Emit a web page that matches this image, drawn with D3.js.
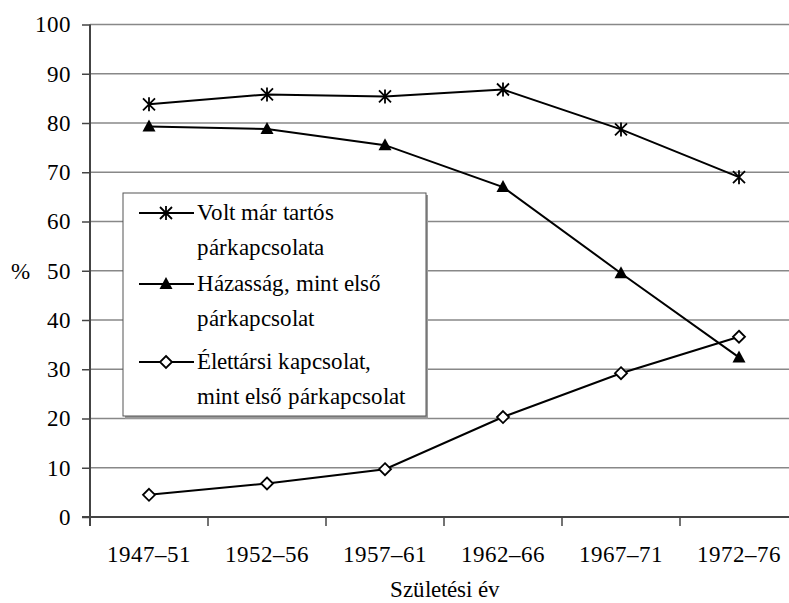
<!DOCTYPE html>
<html>
<head>
<meta charset="utf-8">
<script src="https://cdn.jsdelivr.net/npm/d3@7"></script>
<style>
@font-face {
	font-family: "ChartSerif";
	src: local("Liberation Serif"), local("LiberationSerif"), local("LiberationSerif-Regular"),
		local("Times New Roman"), local("TimesNewRomanPSMT"), local("DejaVu Serif"), local("DejaVuSerif"),
		local("Noto Serif"), local("NotoSerif-Regular");
}
body { margin: 0; background: #fff; }
svg text { font-family: "ChartSerif", "Liberation Serif", "Times New Roman", "DejaVu Serif", serif; fill: #000; font-size: 23px; }
</style>
</head>
<body>
<svg id="svg"></svg>
<script>
var width = 789, height = 603;

var categories = ["1947–51", "1952–56", "1957–61", "1962–66", "1967–71", "1972–76"];
var tartos = [83.8, 85.8, 85.4, 86.8, 78.7, 69.0];
var hazassag = [79.3, 78.8, 75.5, 67.0, 49.5, 32.4];
var elettarsi = [4.5, 6.8, 9.7, 20.3, 29.2, 36.6];
var yTicks = [0, 10, 20, 30, 40, 50, 60, 70, 80, 90, 100];
var seriesNames = [["Volt már tartós", "párkapcsolata"], ["Házasság, mint első", "párkapcsolat"], ["Élettársi kapcsolat,", "mint első párkapcsolat"]];

var svg = d3.select("#svg")
	.attr("width", width)
	.attr("height", height);

var x = d3.scaleBand()
	.domain(categories)
	.range([90, 798]);
var y = d3.scaleLinear()
	.domain([0, 100])
	.range([517, 24.5]);

// grid
svg.append("g")
	.selectAll("line")
	.data(yTicks.slice(1))
	.enter()
	.append("line")
	.attr("x1", 90)
	.attr("x2", width)
	.attr("y1", function(d) { return y(d); })
	.attr("y2", function(d) { return y(d); })
	.style("stroke", "#888")
	.style("stroke-width", 1.5);

var yAxis = d3.axisLeft(y)
	.tickValues(yTicks)
	.tickSize(8)
	.tickPadding(11);
var gy = svg.append("g")
	.attr("transform", "translate(90,0)")
	.call(yAxis)
	.attr("font-family", null)
	.attr("font-size", null);
gy.select(".domain").remove();
gy.selectAll("line").style("stroke", "#444").style("stroke-width", 1.5);
svg.append("line")
	.attr("x1", 90).attr("x2", 90)
	.attr("y1", y(100)).attr("y2", 526)
	.style("stroke", "#444").style("stroke-width", 2);

// x axis
svg.append("line")
	.attr("x1", 82).attr("x2", width)
	.attr("y1", y(0)).attr("y2", y(0))
	.style("stroke", "#444").style("stroke-width", 2);
svg.append("g")
	.selectAll("line")
	.data(categories.slice(1))
	.enter()
	.append("line")
	.attr("x1", function(d) { return x(d); })
	.attr("x2", function(d) { return x(d); })
	.attr("y1", y(0))
	.attr("y2", 526)
	.style("stroke", "#444")
	.style("stroke-width", 1.5);
svg.append("g")
	.selectAll("text")
	.data(categories)
	.enter()
	.append("text")
	.attr("x", function(d) { return x(d) + x.bandwidth() / 2; })
	.attr("y", 562)
	.style("text-anchor", "middle")
	.text(function(d) { return d; });

svg.append("text")
	.attr("x", 445)
	.attr("y", 597)
	.style("text-anchor", "middle")
	.text("Születési év");
svg.append("text")
	.attr("x", 20)
	.attr("y", 279)
	.style("text-anchor", "middle")
	.text("%");

var cx = function(i) { return x(categories[i]) + x.bandwidth() / 2; };
var line = d3.line()
	.x(function(d, i) { return cx(i); })
	.y(function(d) { return y(d); });

function drawMarker(g, type, px, py) {
	if (type == 0) {
		var s = 6;
		g.append("path")
			.attr("d", "M" + (px - s) + "," + (py - s) + "L" + (px + s) + "," + (py + s) +
				"M" + (px - s) + "," + (py + s) + "L" + (px + s) + "," + (py - s) +
				"M" + px + "," + (py - s - 1) + "L" + px + "," + (py + s + 1))
			.style("stroke", "#000").style("stroke-width", 1.8).style("fill", "none");
	} else if (type == 1) {
		g.append("path")
			.attr("d", "M" + px + "," + (py - 7) + "L" + (px + 6.5) + "," + (py + 5) + "L" + (px - 6.5) + "," + (py + 5) + "Z")
			.style("fill", "#000");
	} else {
		g.append("path")
			.attr("d", "M" + px + "," + (py - 6) + "L" + (px + 6) + "," + py + "L" + px + "," + (py + 6) + "L" + (px - 6) + "," + py + "Z")
			.style("fill", "#fff").style("stroke", "#000").style("stroke-width", 1.8);
	}
}

var allSeries = [tartos, hazassag, elettarsi];
allSeries.forEach(function(s, k) {
	var g = svg.append("g");
	g.append("path")
		.datum(s)
		.attr("d", line)
		.style("fill", "none")
		.style("stroke", "#000")
		.style("stroke-width", 2);
	s.forEach(function(v, i) { drawMarker(g, k, cx(i), y(v)); });
});

// legend
var lg = svg.append("g");
lg.append("rect")
	.attr("x", 125).attr("y", 195)
	.attr("width", 303).attr("height", 224)
	.style("fill", "#999");
lg.append("rect")
	.attr("x", 123).attr("y", 193)
	.attr("width", 303).attr("height", 223)
	.style("fill", "#fff")
	.style("stroke", "#555")
	.style("stroke-width", 1);
var rowY = [213, 284, 362];
seriesNames.forEach(function(n, k) {
	var yy = rowY[k];
	lg.append("line")
		.attr("x1", 139).attr("x2", 194)
		.attr("y1", yy).attr("y2", yy)
		.style("stroke", "#000").style("stroke-width", 2);
	drawMarker(lg, k, 166, yy);
	lg.append("text")
		.attr("x", 197).attr("y", yy + 7)
		.text(n[0]);
	lg.append("text")
		.attr("x", 197).attr("y", yy + 42)
		.text(n[1]);
});
</script>
</body>
</html>
